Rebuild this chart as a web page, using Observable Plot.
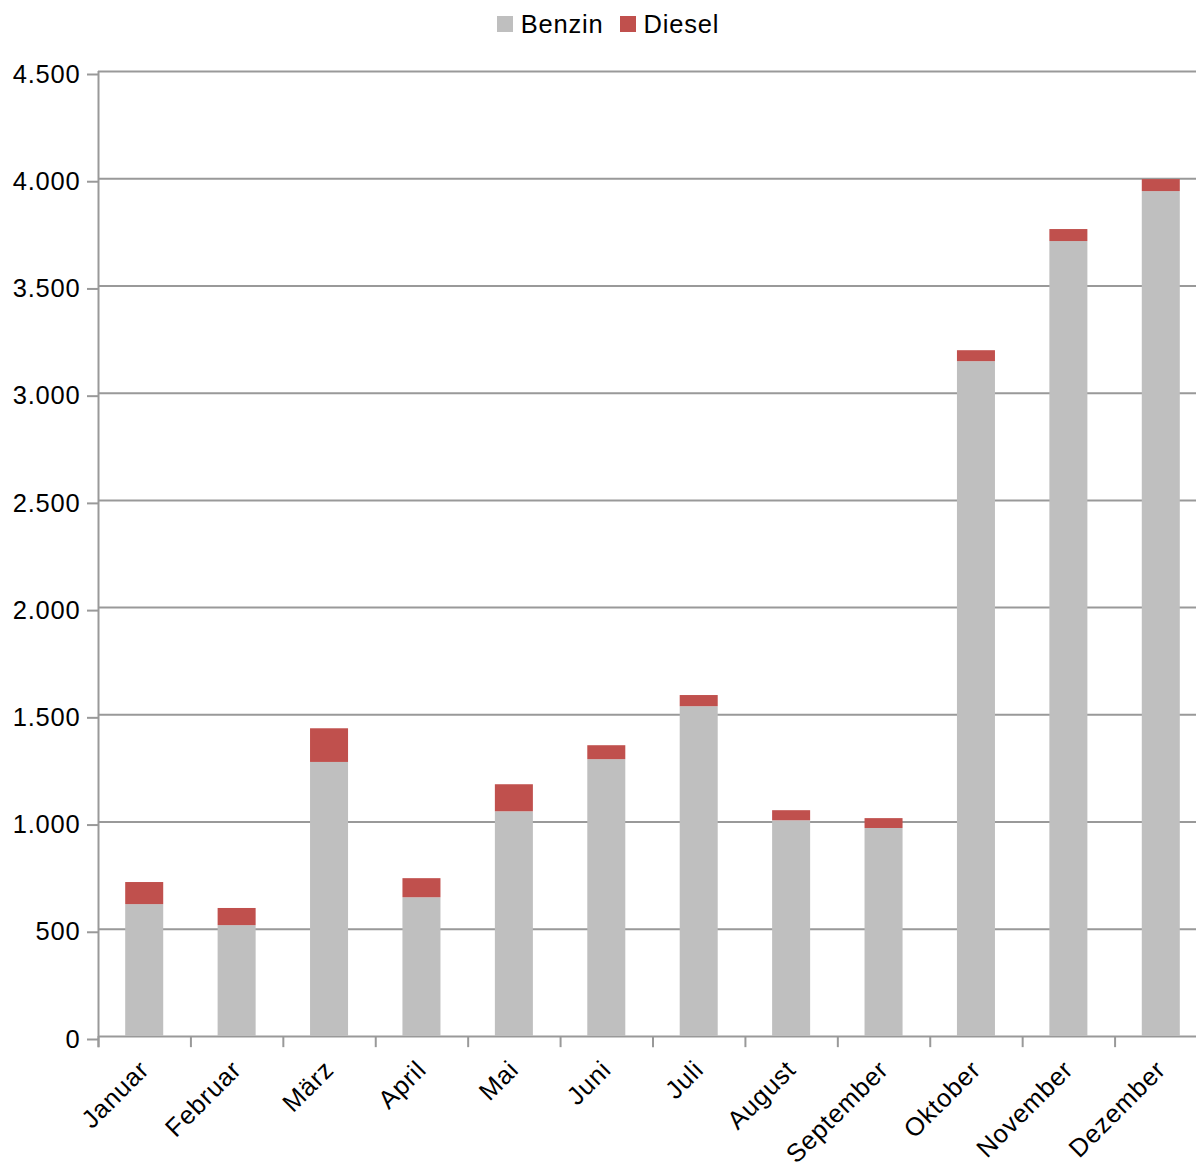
<!DOCTYPE html>
<html>
<head>
<meta charset="utf-8">
<script src="https://cdn.jsdelivr.net/npm/d3@7"></script>
<script src="https://cdn.jsdelivr.net/npm/@observablehq/plot@0.6"></script>
<style>
  html, body { margin: 0; padding: 0; background: white; overflow: hidden; }
  #legend { height: 48px; display: flex; justify-content: center; align-items: center; font-family: "Liberation Sans", Arial, sans-serif; font-size: 25.5px; letter-spacing: 0.8px; color: #000; padding-left: 20px; box-sizing: border-box; }
  .item { display: flex; align-items: center; margin: 0 8px; }
  .sw { width: 16px; height: 16px; margin-right: 8px; }
</style>
</head>
<body>
<div id="legend"></div>
<div id="chart"></div>
<script>
const months = ["Januar","Februar","März","April","Mai","Juni","Juli","August","September","Oktober","November","Dezember"];
const benzin = [615, 517, 1278, 647, 1048, 1291, 1538, 1006, 970, 3147, 3707, 3940];
const diesel = [103, 80, 157, 89, 126, 65, 52, 47, 46, 51, 56, 56];
const series = ["Benzin", "Diesel"];
const colors = ["#bfbfbf", "#c0504d"];
const yTicks = [0, 500, 1000, 1500, 2000, 2500, 3000, 3500, 4000, 4500];

const legend = document.getElementById("legend");
series.forEach((s, i) => {
  const it = document.createElement("div");
  it.className = "item";
  it.innerHTML = `<span class="sw" style="background:${colors[i]}"></span><span>${s}</span>`;
  legend.appendChild(it);
});

const data = months.map((m, i) => ({month: m, i, benzin: benzin[i], diesel: diesel[i], total: benzin[i] + diesel[i]}));
const fmt = d => d3.format(",")(d).replace(/,/g, ".");

const chart = Plot.plot({
  width: 1196,
  height: 1119,
  marginLeft: 98,
  marginRight: -11,
  marginTop: 23,
  marginBottom: 131,
  style: {fontFamily: "Liberation Sans, Arial, sans-serif", fontSize: "25.5px", letterSpacing: "0.8px", color: "#000", background: "white", overflow: "hidden", maxWidth: "none"},
  x: {type: "linear", domain: [0, months.length], axis: null},
  y: {domain: [0, 4500], axis: null},
  marks: [
    Plot.ruleY(yTicks, {stroke: "#999", strokeWidth: 2}),
    Plot.axisY({ticks: yTicks, tickSize: 11, tickPadding: 7, tickFormat: fmt, stroke: "#999", strokeWidth: 2, fill: "#000", fontSize: 25.5, dy: 3, label: null}),
    Plot.rectY(data, {x1: "i", x2: d => d.i + 1, y1: 0, y2: "benzin", fill: colors[0], insetLeft: 27.2, insetRight: 27.2}),
    Plot.rectY(data, {x1: "i", x2: d => d.i + 1, y1: "benzin", y2: "total", fill: colors[1], insetLeft: 27.2, insetRight: 27.2}),
    Plot.ruleX(d3.range(months.length + 1), {y1: 0, y2: -52, stroke: "#999", strokeWidth: 2}),
    Plot.ruleX([0], {y1: -52, y2: 4500, stroke: "#999", strokeWidth: 2}),
    Plot.text(data, {x: d => d.i + 0.5, y: 0, text: "month", rotate: -45, textAnchor: "end", dx: 0, dy: 29, fontSize: 25.5, fill: "#000"})
  ]
});
document.getElementById("chart").appendChild(chart);
</script>
</body>
</html>
